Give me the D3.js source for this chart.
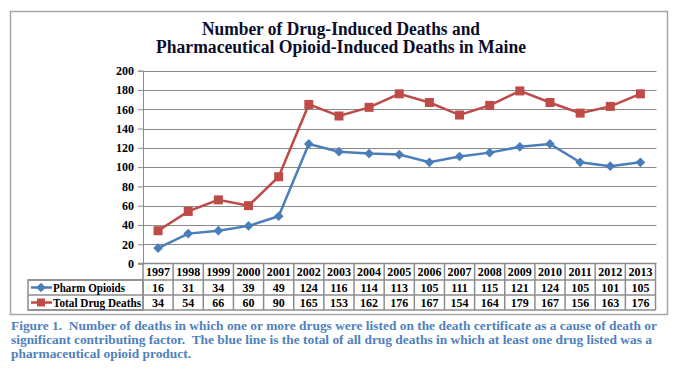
<!DOCTYPE html>
<html>
<head>
<meta charset="utf-8">
<script src="https://cdn.jsdelivr.net/npm/d3@7"></script>
<style>
  body { margin: 0; background: #fff; }
  svg text { font-family: "Liberation Serif", "DejaVu Serif", serif; font-weight: bold; }
  .caption { white-space: pre; }
</style>
</head>
<body>
<svg id="main" width="682" height="370"></svg>
<script>
// chart data
var years = ["1997","1998","1999","2000","2001","2002","2003","2004","2005","2006","2007","2008","2009","2010","2011","2012","2013"];
var pharmOpioids = [16, 31, 34, 39, 49, 124, 116, 114, 113, 105, 111, 115, 121, 124, 105, 101, 105];
var totalDrugDeaths = [34, 54, 66, 60, 90, 165, 153, 162, 176, 167, 154, 164, 179, 167, 156, 163, 176];
var yTicks = [0, 20, 40, 60, 80, 100, 120, 140, 160, 180, 200];
var seriesNames = ["Pharm Opioids", "Total Drug Deaths"];

var titleLines = ["Number of Drug-Induced Deaths and", "Pharmaceutical Opioid-Induced Deaths in Maine"];
var captionLines = [
  "Figure 1.  Number of deaths in which one or more drugs were listed on the death certificate as a cause of death or",
  "significant contributing factor.  The blue line is the total of all drug deaths in which at least one drug listed was a",
  "pharmaceutical opioid product."
];

var blue = "#4a7ebb", red = "#be4b48", grid = "#8a8a8a";

var svg = d3.select("#main");

// outer chart frame
svg.append("rect")
  .attr("x", 10.5).attr("y", 11.5)
  .attr("width", 657).attr("height", 303)
  .style("fill", "white").style("stroke", "#a6a6a6").style("stroke-width", 1.5);

// title
svg.selectAll(".title").data(titleLines).enter().append("text")
  .attr("class", "title")
  .attr("x", 341).attr("y", function(d, i) { return 35 + i * 18; })
  .attr("text-anchor", "middle")
  .attr("textLength", function(d, i) { return i === 0 ? 278 : 370; })
  .attr("lengthAdjust", "spacingAndGlyphs")
  .style("font-size", "18px").style("fill", "#0d0d2b")
  .text(function(d) { return d; });

var x = d3.scaleBand().domain(years).range([143, 655.5]);
var y = d3.scaleLinear().domain([0, 200]).range([263.5, 70.7]);

// gridlines
svg.append("g").selectAll("line").data(yTicks.slice(1)).enter().append("line")
  .attr("x1", 143).attr("x2", 656.5)
  .attr("y1", function(d) { return Math.round(y(d)) + 0.5; })
  .attr("y2", function(d) { return Math.round(y(d)) + 0.5; })
  .style("stroke", grid).style("stroke-width", 1);

// y axis
var yAxis = d3.axisLeft(y).tickValues(yTicks).tickSize(5).tickPadding(4);
var yg = svg.append("g").attr("transform", "translate(143,0)").call(yAxis);
yg.select(".domain").style("stroke", grid);
yg.selectAll(".tick line").style("stroke", grid);
yg.selectAll(".tick text")
  .style("font-family", "Liberation Serif").style("font-weight", "bold")
  .style("font-size", "12px").style("fill", "#000");

// x axis baseline
svg.append("line")
  .attr("x1", 138).attr("x2", 656.5)
  .attr("y1", 263.5).attr("y2", 263.5)
  .style("stroke", grid).style("stroke-width", 1.5);

// lines
var line = function(vals) {
  return d3.line()
    .x(function(d, i) { return x(years[i]) + x.bandwidth() / 2; })
    .y(function(d) { return y(d); })(vals);
};

svg.append("path").attr("d", line(totalDrugDeaths))
  .style("fill", "none").style("stroke", red).style("stroke-width", 2.5);
svg.append("path").attr("d", line(pharmOpioids))
  .style("fill", "none").style("stroke", blue).style("stroke-width", 2.5);

var diamond = d3.symbol().type(d3.symbolDiamond2).size(60);

svg.append("g").selectAll("rect").data(totalDrugDeaths).enter().append("rect")
  .attr("x", function(d, i) { return x(years[i]) + x.bandwidth() / 2 - 4.5; })
  .attr("y", function(d) { return y(d) - 4.5; })
  .attr("width", 9).attr("height", 9)
  .style("fill", red);

svg.append("g").selectAll("path").data(pharmOpioids).enter().append("path")
  .attr("d", diamond)
  .attr("transform", function(d, i) {
    return "translate(" + (x(years[i]) + x.bandwidth() / 2) + "," + y(d) + ")";
  })
  .style("fill", blue);

// data table
var rowTop = [263.5, 280, 295], rowBottom = 310;
var tableStroke = "#8c8c8c";
var table = svg.append("g");

// legend cell box
table.append("rect")
  .attr("x", 28).attr("y", rowTop[1])
  .attr("width", 143 - 28).attr("height", rowBottom - rowTop[1])
  .style("fill", "none").style("stroke", tableStroke).style("stroke-width", 1.5);

// horizontal rules
rowTop.slice(1).concat([rowBottom]).forEach(function(ry) {
  table.append("line")
    .attr("x1", 28).attr("x2", x.range()[1])
    .attr("y1", ry).attr("y2", ry)
    .style("stroke", tableStroke).style("stroke-width", 1.5);
});

// vertical rules
table.selectAll(".vrule").data(years.concat(["end"])).enter().append("line")
  .attr("class", "vrule")
  .attr("x1", function(d, i) { return i < years.length ? x(d) : x.range()[1]; })
  .attr("x2", function(d, i) { return i < years.length ? x(d) : x.range()[1]; })
  .attr("y1", rowTop[0]).attr("y2", rowBottom)
  .style("stroke", tableStroke).style("stroke-width", 1.5);

// year row
table.selectAll(".yr").data(years).enter().append("text")
  .attr("class", "yr")
  .attr("x", function(d) { return x(d) + x.bandwidth() / 2; })
  .attr("y", 276)
  .attr("text-anchor", "middle")
  .style("font-size", "12px")
  .text(function(d) { return d; });

[pharmOpioids, totalDrugDeaths].forEach(function(vals, r) {
  table.append("g").selectAll("text").data(vals).enter().append("text")
    .attr("x", function(d, i) { return x(years[i]) + x.bandwidth() / 2; })
    .attr("y", rowTop[r + 1] + 12)
    .attr("text-anchor", "middle")
    .style("font-size", "12px")
    .text(function(d) { return d; });
});

// legend keys
seriesNames.forEach(function(name, r) {
  var cy = (rowTop[r + 1] + (r === 0 ? rowTop[2] : rowBottom)) / 2;
  var col = r === 0 ? blue : red;
  table.append("line")
    .attr("x1", 31).attr("x2", 52).attr("y1", cy).attr("y2", cy)
    .style("stroke", col).style("stroke-width", 2.5);
  if (r === 0) {
    table.append("path").attr("d", diamond)
      .attr("transform", "translate(41," + cy + ")").style("fill", col);
  } else {
    table.append("rect").attr("x", 37).attr("y", cy - 4).attr("width", 8).attr("height", 8)
      .style("fill", col);
  }
  table.append("text")
    .attr("x", 53).attr("y", cy + 4)
    .attr("textLength", r === 0 ? 72 : 88)
    .attr("lengthAdjust", "spacingAndGlyphs")
    .style("font-size", "12px")
    .text(name);
});

// caption
svg.selectAll(".caption").data(captionLines).enter().append("text")
  .attr("class", "caption")
  .attr("x", 11).attr("y", function(d, i) { return 330 + i * 14.2; })
  .attr("textLength", function(d, i) { return [646, 641, 180][i]; })
  .attr("lengthAdjust", "spacingAndGlyphs")
  .style("font-size", "13px").style("fill", "#4f81bd")
  .text(function(d) { return d; });
</script>
</body>
</html>
